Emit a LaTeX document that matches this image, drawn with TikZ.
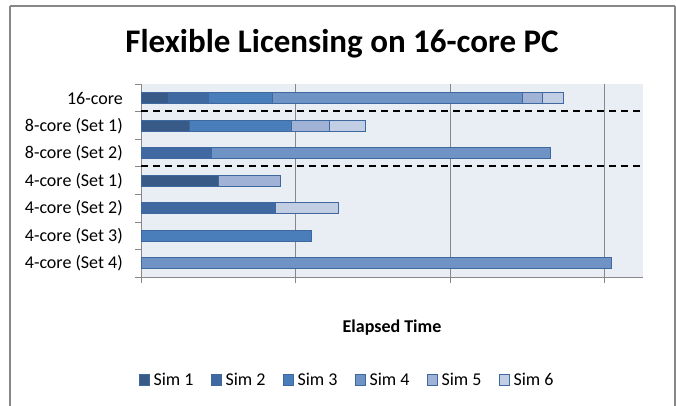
\documentclass[tikz,border=0pt]{standalone}
\usepackage{fontspec}
\setmainfont{Carlito}
\begin{document}
\begin{tikzpicture}[x=1pt,y=-1pt,
  frame/.style={draw=black!47,line width=2pt},
  grid/.style={draw=black!47,line width=0.8pt},
  catlabel/.style={anchor=east,inner sep=0pt,font=\fontsize{18}{18}\selectfont},
  legtext/.style={anchor=west,inner sep=0pt,font=\fontsize{18}{18}\selectfont},
  seg/.style={draw=barEdge,line width=0.8pt},
  divider/.style={draw=black,line width=2pt,dash pattern=on 7pt off 5pt}]
\definecolor{simA}{HTML}{375A87}
\definecolor{simB}{HTML}{4069A1}
\definecolor{simC}{HTML}{4A7EBB}
\definecolor{simD}{HTML}{7093C5}
\definecolor{simE}{HTML}{A0B3D7}
\definecolor{simF}{HTML}{C2CEE4}
\definecolor{barEdge}{HTML}{4068A0}
\definecolor{plotBg}{HTML}{E9EDF4}
\useasboundingbox (0,0) rectangle (676,406);
% chart frame
\draw[frame] (10,6) -- (675,6) (10,6) -- (10,406) (675,6) -- (675,406);
% title
\node[font=\bfseries\fontsize{33}{33}\selectfont,inner sep=0pt] (title) at (342,44) {Flexible Licensing on 16-core PC};
% plot area
\fill[plotBg] (141,84) rectangle (643,277);
\foreach \gx in {295.5,450,604.5} \draw[grid] (\gx,84) -- (\gx,283);
\draw[grid] (141,84) -- (141,283);
\draw[grid] (141,277) -- (643,277);
\foreach \ty in {84,111.6,139.1,166.7,194.3,221.9,249.4,277} \draw[grid] (135,\ty) -- (141,\ty);
% bar segment: row centre, start, end, fill colour
\newcommand{\barseg}[4]{\filldraw[seg,fill=#4] (#2,#1-5.5) rectangle (#3,#1+5.5);}
% 16-core
\barseg{98}{141}{168}{simA}
\barseg{98}{168}{208.3}{simB}
\barseg{98}{208.3}{272.7}{simC}
\barseg{98}{272.7}{522.3}{simD}
\barseg{98}{522.3}{542.3}{simE}
\barseg{98}{542.3}{563}{simF}
% 8-core (Set 1)
\barseg{125.7}{141}{189}{simA}
\barseg{125.7}{189}{291.7}{simC}
\barseg{125.7}{291.7}{329.7}{simE}
\barseg{125.7}{329.7}{365.7}{simF}
% 8-core (Set 2)
\barseg{153}{141}{211.7}{simB}
\barseg{153}{211.7}{550.7}{simD}
% 4-core (Set 1)
\barseg{180.7}{141}{218}{simA}
\barseg{180.7}{218}{280.7}{simE}
% 4-core (Set 2)
\barseg{208}{141}{275}{simB}
\barseg{208}{275}{338.7}{simF}
% 4-core (Set 3)
\barseg{235.7}{141}{311.7}{simC}
% 4-core (Set 4)
\barseg{263}{141}{611.7}{simD}
% group dividers
\draw[divider] (141,111) -- (641,111);
\draw[divider] (141,166) -- (641,166);
% category labels
\node[catlabel] (c1) at (123,98) {16-core};
\node[catlabel] (c2) at (123,125.7) {8-core (Set 1)};
\node[catlabel] (c3) at (123,153) {8-core (Set 2)};
\node[catlabel] (c4) at (123,180.7) {4-core (Set 1)};
\node[catlabel] (c5) at (123,208) {4-core (Set 2)};
\node[catlabel] (c6) at (123,235.7) {4-core (Set 3)};
\node[catlabel] (c7) at (123,263) {4-core (Set 4)};
% axis title
\node[font=\bfseries\fontsize{18}{18}\selectfont,inner sep=0pt] (xtitle) at (392,328) {Elapsed Time};
% legend
\foreach \i/\c/\lx in {1/simA/139.3,2/simB/211.3,3/simC/283.3,4/simD/355.3,5/simE/427.3,6/simF/499.3}{
  \filldraw[draw=barEdge,line width=0.6pt,fill=\c] (\lx,374.5) rectangle (\lx+9.5,385);
  \node[legtext] (leg\i) at (\lx+14,379.5) {Sim \i};
}
\end{tikzpicture}
\end{document}
